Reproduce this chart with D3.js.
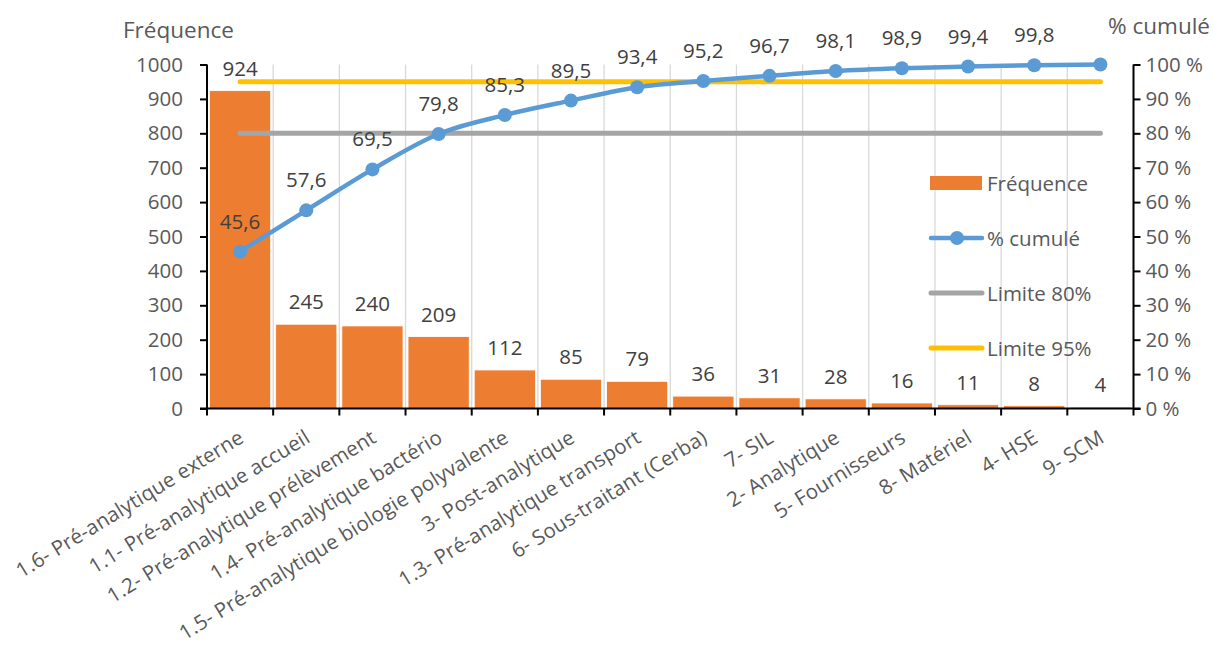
<!DOCTYPE html>
<html><head><meta charset="utf-8">
<script src="https://cdn.jsdelivr.net/npm/d3@7/dist/d3.min.js"></script>
<style>
body{margin:0;background:#fff;}
svg{display:block;font-family:"Open Sans",sans-serif;}
</style></head>
<body>
<svg id="c" width="1214" height="648"></svg>
<script>
const categories = ["1.6- Pré-analytique externe","1.1- Pré-analytique accueil","1.2- Pré-analytique prélèvement","1.4- Pré-analytique bactério","1.5- Pré-analytique biologie polyvalente","3- Post-analytique","1.3- Pré-analytique transport","6- Sous-traitant (Cerba)","7- SIL","2- Analytique","5- Fournisseurs","8- Matériel","4- HSE","9- SCM"];
const frequence = [924,245,240,209,112,85,79,36,31,28,16,11,8,4];
const cumul = [45.6,57.6,69.5,79.8,85.3,89.5,93.4,95.2,96.7,98.1,98.9,99.4,99.8,100];
const cumulLabels = ["45,6","57,6","69,5","79,8","85,3","89,5","93,4","95,2","96,7","98,1","98,9","99,4","99,8",""];
const limite80 = 80, limite95 = 95;
const leftTicks = [0,100,200,300,400,500,600,700,800,900,1000];
const rightTicks = [0,10,20,30,40,50,60,70,80,90,100];
const legendItems = ["Fréquence","% cumulé","Limite 80%","Limite 95%"];

const FS = 20.5;
const svg = d3.select("#c");
const L = 207, R = 1133.5, T = 64.5, B = 408.5;
const x = d3.scaleBand().domain(categories).range([L,R]).padding(0);
const yL = d3.scaleLinear().domain([0,1000]).range([B,T]);
const yR = d3.scaleLinear().domain([0,100]).range([B,T]);
const bw = x.bandwidth();
const cx = d => x(d) + bw/2;

// vertical gridlines
svg.append("g").selectAll("line").data(d3.range(1,categories.length+1)).join("line")
  .attr("x1",i=>L + i*bw).attr("x2",i=>L + i*bw)
  .attr("y1",T).attr("y2",B).attr("stroke","#d9d9d9").attr("stroke-width",1.3);

// bars
svg.append("g").selectAll("rect").data(frequence).join("rect")
  .attr("x",(d,i)=>x(categories[i])+2.5).attr("width",bw-5)
  .attr("y",d=>yL(d)).attr("height",d=>B-yL(d))
  .attr("fill","#ED7D31").attr("stroke","#fff").attr("stroke-width",0.8);

// bar labels
svg.append("g").selectAll("text").data(frequence).join("text")
  .attr("x",(d,i)=>cx(categories[i])).attr("y",d=>yL(d)-23)
  .attr("text-anchor","middle").attr("dominant-baseline","central")
  .attr("font-size",FS).attr("fill","#404040").text(d=>d);

// limit lines
const x0 = cx(categories[0]), x1 = cx(categories[categories.length-1]);
svg.append("line").attr("x1",x0).attr("x2",x1).attr("y1",yR(limite80)).attr("y2",yR(limite80))
  .attr("stroke","#A5A5A5").attr("stroke-width",5).attr("stroke-linecap","round");
svg.append("line").attr("x1",x0).attr("x2",x1).attr("y1",yR(limite95)).attr("y2",yR(limite95))
  .attr("stroke","#FFC000").attr("stroke-width",5).attr("stroke-linecap","round");

// cumul line
const line = d3.line().x((d,i)=>cx(categories[i])).y(d=>yR(d)).curve(d3.curveMonotoneX);
svg.append("path").datum(cumul).attr("d",line).attr("fill","none")
  .attr("stroke","#5B9BD5").attr("stroke-width",4.5).attr("stroke-linejoin","round");
svg.append("g").selectAll("circle").data(cumul).join("circle")
  .attr("cx",(d,i)=>cx(categories[i])).attr("cy",d=>yR(d)).attr("r",7)
  .attr("fill","#5B9BD5");
svg.append("g").selectAll("text").data(cumul).join("text")
  .attr("x",(d,i)=>cx(categories[i])).attr("y",d=>yR(d)-31)
  .attr("text-anchor","middle").attr("dominant-baseline","central")
  .attr("font-size",FS).attr("fill","#404040").text((d,i)=>cumulLabels[i]);

// axes
const axL = svg.append("g").attr("transform",`translate(${L},0)`)
  .call(d3.axisLeft(yL).tickValues(leftTicks).tickSize(7).tickPadding(17).tickFormat(d3.format("d")));
const axR = svg.append("g").attr("transform",`translate(${R},0)`)
  .call(d3.axisRight(yR).tickValues(rightTicks).tickSize(7).tickPadding(5).tickFormat(d=>d+" %"));
[axL,axR].forEach(a=>{
  a.select(".domain").attr("d", `M0,${T}H0V${B}`).attr("stroke","#000").attr("stroke-width",2);
  a.selectAll(".tick line").attr("stroke","#000").attr("stroke-width",2);
  a.selectAll(".tick text").attr("font-size",FS).attr("fill","#595959").attr("font-family","Open Sans");
});
// bottom axis with ticks at band boundaries
svg.append("g").selectAll("line").data(d3.range(categories.length+1)).join("line")
  .attr("x1",i=>L+i*bw).attr("x2",i=>L+i*bw).attr("y1",B).attr("y2",B+7)
  .attr("stroke","#000").attr("stroke-width",2);
svg.append("line").attr("x1",L-7).attr("x2",R+7).attr("y1",B).attr("y2",B).attr("stroke","#000").attr("stroke-width",2);

// category labels
svg.append("g").selectAll("text").data(categories).join("text")
  .attr("transform",d=>`translate(${cx(d)+1},${B+26}) rotate(-31.5)`)
  .attr("text-anchor","end").attr("dominant-baseline","central")
  .attr("font-size",20.5).attr("letter-spacing",0.15).attr("fill","#595959").text(d=>d);

// axis titles
svg.append("text").attr("x",123).attr("y",29).attr("dominant-baseline","central")
  .attr("font-size",22.5).attr("fill","#595959").text("Fréquence");
svg.append("text").attr("x",1210).attr("y",25).attr("text-anchor","end").attr("dominant-baseline","central")
  .attr("font-size",22.5).attr("fill","#595959").text("% cumulé");

// legend
const lg = svg.append("g");
const ly = [183,238,293,348];
lg.append("rect").attr("x",930).attr("y",ly[0]-7).attr("width",52).attr("height",14).attr("fill","#ED7D31");
lg.append("line").attr("x1",931).attr("x2",982).attr("y1",ly[1]).attr("y2",ly[1]).attr("stroke","#5B9BD5").attr("stroke-width",4.5).attr("stroke-linecap","round");
lg.append("circle").attr("cx",957).attr("cy",ly[1]).attr("r",7).attr("fill","#5B9BD5");
lg.append("line").attr("x1",931).attr("x2",982).attr("y1",ly[2]).attr("y2",ly[2]).attr("stroke","#A5A5A5").attr("stroke-width",5).attr("stroke-linecap","round");
lg.append("line").attr("x1",931).attr("x2",982).attr("y1",ly[3]).attr("y2",ly[3]).attr("stroke","#FFC000").attr("stroke-width",5).attr("stroke-linecap","round");
lg.selectAll("text").data(legendItems).join("text")
  .attr("x",987).attr("y",(d,i)=>ly[i]).attr("dominant-baseline","central")
  .attr("font-size",FS).attr("fill","#595959").text(d=>d);
</script>
</body></html>
